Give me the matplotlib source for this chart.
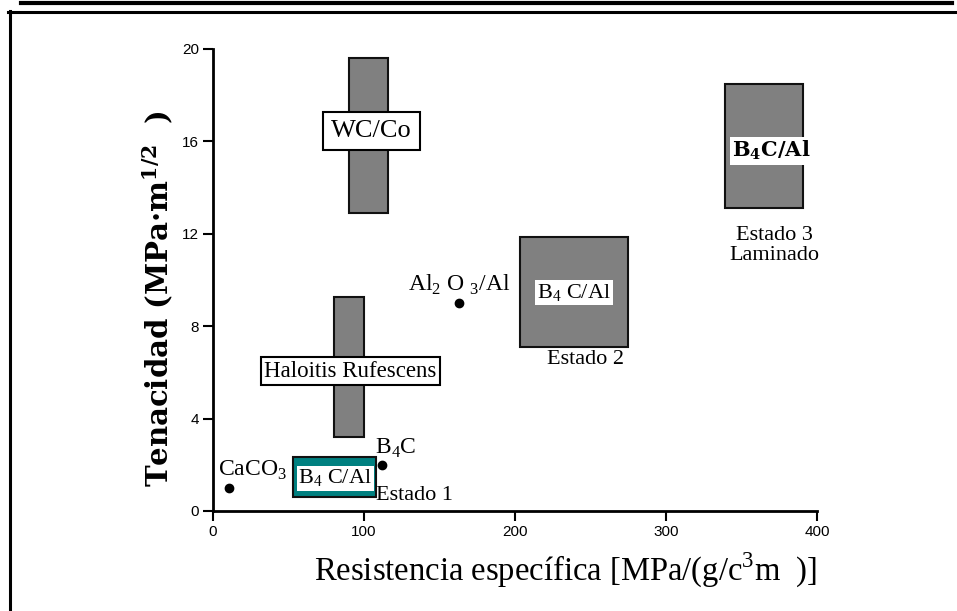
import matplotlib
matplotlib.use("Agg")
import matplotlib.pyplot as plt
from matplotlib.patches import Rectangle
from matplotlib.lines import Line2D

plt.rcParams['mathtext.fontset'] = 'custom'
plt.rcParams['mathtext.rm'] = 'Liberation Serif'
plt.rcParams['mathtext.bf'] = 'DejaVu Serif:bold'

# ---- data ----
bar_names = ["WC/Co", "Haloitis Rufescens", "B4C/Al Estado 1", "B4C/Al Estado 2", "B4C/Al Estado 3"]
x_lo = [90, 80, 53, 203, 339]
x_hi = [116, 100, 108, 275, 391]
y_lo = [12.9, 3.2, 0.6, 7.1, 13.1]
y_hi = [19.6, 9.25, 2.35, 11.85, 18.5]
bar_colors = ["#808080", "#808080", "#008080", "#808080", "#808080"]

point_names = ["CaCO3", "B4C", "Al2O3/Al"]
point_x = [10.5, 112, 163]
point_y = [1.0, 2.0, 9.0]

x_ticks = [0, 100, 200, 300, 400]
y_ticks = [0, 4, 8, 12, 16, 20]

serif = 'Liberation Serif'

fig = plt.figure(figsize=(9.57, 6.11), dpi=100)
ax = fig.add_axes([213/957, 1-511/611, 604/957, 462/611])

for xl, xh, yl, yh, c in zip(x_lo, x_hi, y_lo, y_hi, bar_colors):
    ax.add_patch(Rectangle((xl, yl), xh-xl, yh-yl, facecolor=c,
                           edgecolor='#111111', linewidth=1.5, zorder=2))

ax.plot(point_x, point_y, 'o', color='black', ms=6, zorder=3)

# labels with boxes
ax.text(105, 16.45, "WC/Co", family=serif, fontsize=19, ha='center', va='center',
        bbox=dict(boxstyle='square,pad=0.3', fc='white', ec='black', lw=1.5), zorder=4)
ax.text(91, 6.05, "Haloitis Rufescens", family=serif, fontsize=16.5, ha='center', va='center',
        bbox=dict(boxstyle='square,pad=0.15', fc='white', ec='black', lw=1.5), zorder=4)
ax.text(81, 1.4, r"B$_\mathrm{4}$ C/Al", family=serif, fontsize=16, ha='center', va='center',
        bbox=dict(boxstyle='square,pad=0.08', fc='white', ec='none'), zorder=4)
ax.text(239, 9.45, r"B$_\mathrm{4}$ C/Al", family=serif, fontsize=16, ha='center', va='center',
        bbox=dict(boxstyle='square,pad=0.08', fc='white', ec='none'), zorder=4)
ax.text(370, 15.6, r"B$_\mathbf{4}$C/Al", family='DejaVu Serif', fontweight='bold',
        fontsize=15, ha='center', va='center',
        bbox=dict(boxstyle='square,pad=0.1', fc='white', ec='none'), zorder=4)

# plain labels
ax.text(108, 0.65, "Estado 1", family=serif, fontsize=16, ha='left', va='center')
ax.text(247, 6.55, "Estado 2", family=serif, fontsize=16, ha='center', va='center')
ax.text(372, 11.5, "Estado 3\nLaminado", family=serif, fontsize=16, ha='center', va='center',
        linespacing=1.1)
ax.text(3, 1.75, r"CaCO$_\mathrm{3}$", family=serif, fontsize=17, ha='left', va='center')
ax.text(107, 2.7, r"B$_\mathrm{4}$C", family=serif, fontsize=17, ha='left', va='center')
ax.text(129, 9.8, r"Al$_\mathrm{2}$ O $_\mathrm{3}$/Al", family=serif, fontsize=17,
        ha='left', va='center')

ax.set_xlim(0, 400)
ax.set_ylim(0, 20)
ax.set_xticks(x_ticks)
ax.set_yticks(y_ticks)
ax.tick_params(direction='out', length=7, width=1.5, labelsize=11, pad=3)
for lab in ax.get_xticklabels() + ax.get_yticklabels():
    lab.set_family('Liberation Sans')
for s in ['top', 'right']:
    ax.spines[s].set_visible(False)
for s in ['left', 'bottom']:
    ax.spines[s].set_linewidth(2)

ax.set_xlabel(r"Resistencia específica [MPa/(g/c$^\mathrm{3}$m  )]", family=serif,
              fontsize=23.5, va='center')
ax.xaxis.set_label_coords(0.583, -0.128)
ax.set_ylabel(r"Tenacidad (MPa·m$^\mathbf{1/2}$  )", family='DejaVu Serif',
              fontweight='bold', fontsize=21, va='center')
ax.yaxis.set_label_coords(-0.092, 0.46)

# page frame lines
fig.add_artist(Line2D([21/957, 952/957], [1-3/611, 1-3/611], color='black', lw=3,
                      transform=fig.transFigure))
fig.add_artist(Line2D([8/957, 1.0], [1-12/611, 1-12/611], color='black', lw=2.2,
                      transform=fig.transFigure))
fig.add_artist(Line2D([10/957, 10/957], [0, 1-11/611], color='black', lw=2.2,
                      transform=fig.transFigure))

fig.savefig("out.png", dpi=100)
